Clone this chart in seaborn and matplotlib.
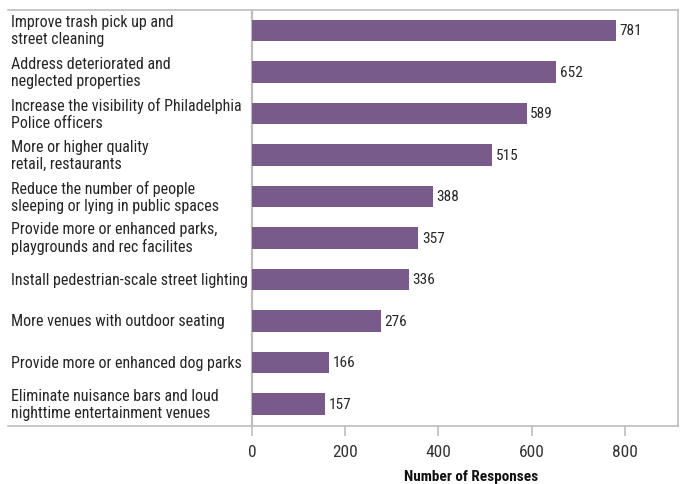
import matplotlib
matplotlib.use("Agg")
import matplotlib.pyplot as plt
import seaborn as sns
import pandas as pd
from matplotlib.transforms import blended_transform_factory

categories = [
    "Improve trash pick up and\nstreet cleaning",
    "Address deteriorated and\nneglected properties",
    "Increase the visibility of Philadelphia\nPolice officers",
    "More or higher quality\nretail, restaurants",
    "Reduce the number of people\nsleeping or lying in public spaces",
    "Provide more or enhanced parks,\nplaygrounds and rec facilites",
    "Install pedestrian-scale street lighting",
    "More venues with outdoor seating",
    "Provide more or enhanced dog parks",
    "Eliminate nuisance bars and loud\nnighttime entertainment venues",
]
responses = [781, 652, 589, 515, 388, 357, 336, 276, 166, 157]
x_ticks = [0, 200, 400, 600, 800]

sns.set_theme(style="white")
plt.rcParams["font.family"] = ["Roboto Condensed", "DejaVu Sans"]

BAR = "#785a8b"
TEXT = "#262626"
GRID = "#bdbdbd"

df = pd.DataFrame({"category": categories, "responses": responses})

fig = plt.figure(figsize=(6.89, 4.85), dpi=100)
W, H = 689, 485
ax = fig.add_axes([8 / W, 1 - 427 / H, 670 / W, 416 / H])

sns.barplot(data=df, x="responses", y="category", orient="h", color=BAR,
            width=0.52, saturation=1, linewidth=0, ax=ax)

ax.set_xlim(-523.3, 913.7)
ax.set_ylim(9.53, -0.49)

for s in ["top", "right", "bottom"]:
    ax.spines[s].set_color(GRID)
    ax.spines[s].set_linewidth(1.2)
ax.spines["left"].set_visible(False)
ax.axvline(0, color=GRID, lw=1.6, zorder=0.5)

ax.set_yticks([])
ax.set_ylabel("")
ax.set_xticks(x_ticks)
ax.set_xticklabels([str(t) for t in x_ticks], fontsize=12.5, color="#333333")
ax.tick_params(axis="x", length=7, width=1.2, color=GRID, pad=6, bottom=True)
ax.set_xlabel("")

trans = blended_transform_factory(ax.transAxes, ax.transData)
for i, (cat, val) in enumerate(zip(categories, responses)):
    ax.text(3 / 670, i, cat, transform=trans, ha="left", va="center",
            fontsize=11.5, color=TEXT, linespacing=1.15)
    ax.text(val + 8, i, str(val), ha="left", va="center",
            fontsize=11, color=TEXT)

fig.text(471 / W, 1 - 477 / H, "Number of Responses", ha="center", va="center",
         fontsize=11, fontweight="bold", color="#111111")

fig.savefig("out.png", dpi=100)
